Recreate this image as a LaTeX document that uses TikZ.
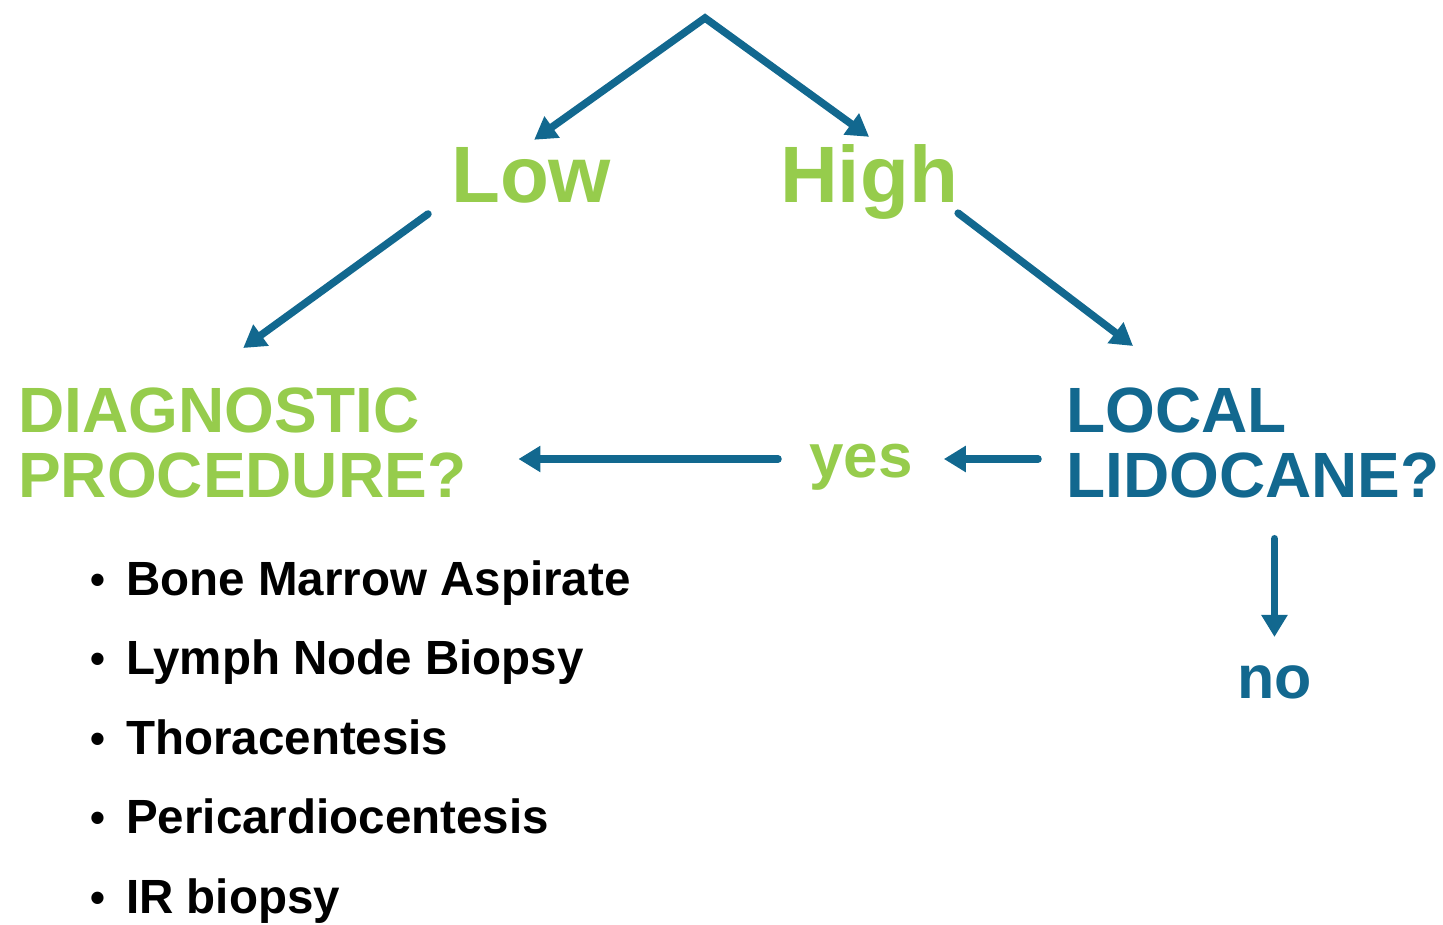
\documentclass[tikz,border=0pt]{standalone}
\usepackage{fontspec}
\setmainfont{Liberation Sans}
\newfontfamily\listfont[FakeStretch=0.99]{Liberation Sans}
\usetikzlibrary{arrows.meta}
\definecolor{leafgreen}{RGB}{150,204,76}
\definecolor{deepblue}{RGB}{18,104,143}
\newcommand{\dotmark}{\makebox[36pt][l]{\raisebox{1pt}{\fontsize{43}{43}\selectfont •}}}

\begin{document}
\begin{tikzpicture}[x=1pt, y=-1pt, inner sep=0pt,
  >={Triangle[length=22pt,width=25pt]},
  arr/.style={deepblue, line width=7.5pt, line cap=round, ->},
  big/.style={leafgreen, font=\bfseries\fontsize{80}{80}\selectfont, anchor=base west},
  ques/.style={font=\bfseries\fontsize{64}{65}\selectfont, align=left, anchor=north west},
  item/.style={font=\listfont\bfseries\fontsize{48}{48}\selectfont, anchor=base west}]
 \useasboundingbox (0,0) rectangle (1443,925);
 %Nodes
 \coordinate (top) at (705,18);
 \node[big] (low) at (451,203) {Low};
 \node[big] (high) at (780,203) {High};
 \node[ques, leafgreen] (diag) at (18,388) {DIAGNOSTIC\\PROCEDURE?};
 \node[ques, deepblue] (local) at (1066,388) {LOCAL\\LIDOCANE?};
 \node[leafgreen, font=\bfseries\fontsize{62}{62}\selectfont, anchor=base west] (yes) at (809,477) {yes};
 \node[deepblue, font=\bfseries\fontsize{61}{61}\selectfont, anchor=base west] (no) at (1237,698) {no};
 \coordinate (yesline) at ([yshift=18pt]yes.base);
 \node[item] (bma) at (90,595) {\dotmark Bone Marrow Aspirate};
 \node[item] (lnb) at (90,674) {\dotmark Lymph Node Biopsy};
 \node[item] (thora) at (90,754) {\dotmark Thoracentesis};
 \node[item] (peri) at (90,833) {\dotmark Pericardiocentesis};
 \node[item] (irb) at (90,913) {\dotmark IR biopsy};
 % Arrows
 \draw[arr, <->] ([xshift=3pt,yshift=8pt]low.north) -- (top) -- ([yshift=8pt]high.north);
 \draw[arr] ([xshift=-23pt,yshift=-10pt]low.south west) -- ([xshift=1pt,yshift=40pt]diag.north);
 \draw[arr] ([yshift=7pt]high.south east) -- ([xshift=67pt,yshift=42pt]local.north west);
 \draw[arr, shorten <=28pt, shorten >=31pt] (local.west |- yesline) -- (yes.east |- yesline);
 \draw[arr, shorten <=31pt, shorten >=52pt] (yes.west |- yesline) -- (diag.east |- yesline);
 \draw[arr, shorten <=40pt, shorten >=28pt] (local.south -| no.north) -- (no.north);
\end{tikzpicture}
\end{document}
